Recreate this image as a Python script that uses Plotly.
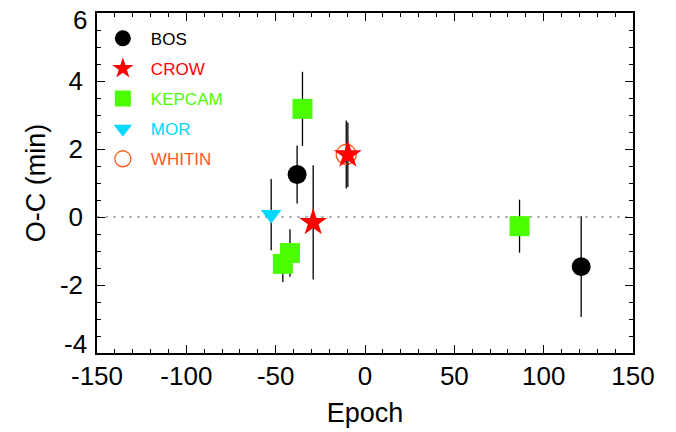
import plotly.graph_objects as go

# O-C timing residuals (minutes) per observer, versus epoch
bos_epoch = [-38, 121]
bos_oc = [1.25, -1.46]
bos_err = [0.85, 1.48]

crow_epoch = [-29, -9.6]
crow_oc = [-0.16, 1.83]
crow_err = [1.68, 0.95]

kepcam_epoch = [-35, -42, -46, 86.5]
kepcam_oc = [3.18, -1.06, -1.38, -0.27]
kepcam_err = [1.09, 0.70, 0.53, 0.78]

mor_epoch = [-52.5]
mor_oc = [0.07]
mor_err = [1.05]

whitin_epoch = [-10.5]
whitin_oc = [1.84]
whitin_err = [1.0]

x_ticks = [-150, -100, -50, 0, 50, 100, 150]
y_ticks = [-4, -2, 0, 2, 4, 6]
y_min, y_max = -4, 6

FONT = "Liberation Sans, Arial, sans-serif"
TICK_FONT = dict(family=FONT, size=26, color="black")


def err(vals):
    return dict(type="data", array=vals, visible=True, color="black",
                thickness=1.3, width=0)


fig = go.Figure()

# draw order: WHITIN first so the CROW star sits on top of its open circle
series = [
    ("WHITIN", whitin_epoch, whitin_oc, whitin_err, "circle-open", 20, "#FF5A1E", 5),
    ("BOS", bos_epoch, bos_oc, bos_err, "circle", 19, "#000000", 1),
    ("KEPCAM", kepcam_epoch, kepcam_oc, kepcam_err, "square", 20, "#4CFF00", 3),
    ("MOR", mor_epoch, mor_oc, mor_err, "triangle-down", 18, "#00D8FF", 4),
    ("CROW", crow_epoch, crow_oc, crow_err, "star", 21, "#FF0000", 2),
]

for name, xs, ys, es, sym, size, color, rank in series:
    marker = dict(symbol=sym, size=size, color=color, line=dict(width=0))
    if sym.endswith("open"):
        marker["line"] = dict(width=1.3, color=color)
    fig.add_trace(go.Scatter(
        x=xs, y=ys, mode="markers",
        name=f"<span style='color:{color}'>{name}</span>",
        legendgroup=name, legendrank=rank, marker=marker, error_y=err(es),
    ))

fig.add_hline(y=0, line=dict(color="#707070", width=1, dash="3px,5px"), layer="below")

axis_common = dict(
    showline=True, linecolor="black", linewidth=1.5, mirror="ticks",
    ticks="inside", tickcolor="black", tickwidth=1.3, ticklen=8,
    showgrid=False, zeroline=False, automargin=False,
    tickfont=TICK_FONT,
)

fig.update_xaxes(
    range=[-150, 150], tickvals=x_ticks, ticktext=[str(v) for v in x_ticks],
    minor=dict(dtick=10, ticks="inside", ticklen=4, tickcolor="black", tickwidth=1.3),
    title=dict(text="Epoch", font=dict(family=FONT, size=27, color="black"), standoff=13),
    ticklabelstandoff=-1,
    **axis_common,
)
# the two end labels are nudged inside the frame, the rest sit on their ticks
fig.update_yaxes(
    range=[y_min, y_max], tickvals=y_ticks,
    ticktext=["" if v in (y_min, y_max) else str(v) for v in y_ticks],
    minor=dict(dtick=0.5, ticks="inside", ticklen=4, tickcolor="black", tickwidth=1.3),
    title=dict(text="O-C (min)", font=dict(family=FONT, size=27, color="black"), standoff=6),
    ticklabelstandoff=7,
    **axis_common,
)
for v, shift in ((y_max, -7), (y_min, 9)):
    fig.add_annotation(
        x=0, xref="paper", y=v, yref="y", text=str(v), showarrow=False,
        xanchor="right", yanchor="middle", xshift=-8, yshift=shift,
        font=TICK_FONT,
    )

fig.update_layout(
    width=676, height=432,
    margin=dict(l=97, r=43, t=13, b=79),
    paper_bgcolor="white", plot_bgcolor="white",
    font=dict(family=FONT),
    showlegend=True,
    legend=dict(
        x=-0.004, y=0.977, xanchor="left", yanchor="top",
        bgcolor="rgba(0,0,0,0)", borderwidth=0,
        font=dict(family=FONT, size=17),
        itemwidth=46, tracegroupgap=5, itemsizing="trace",
    ),
)

fig.write_html("out.html")
